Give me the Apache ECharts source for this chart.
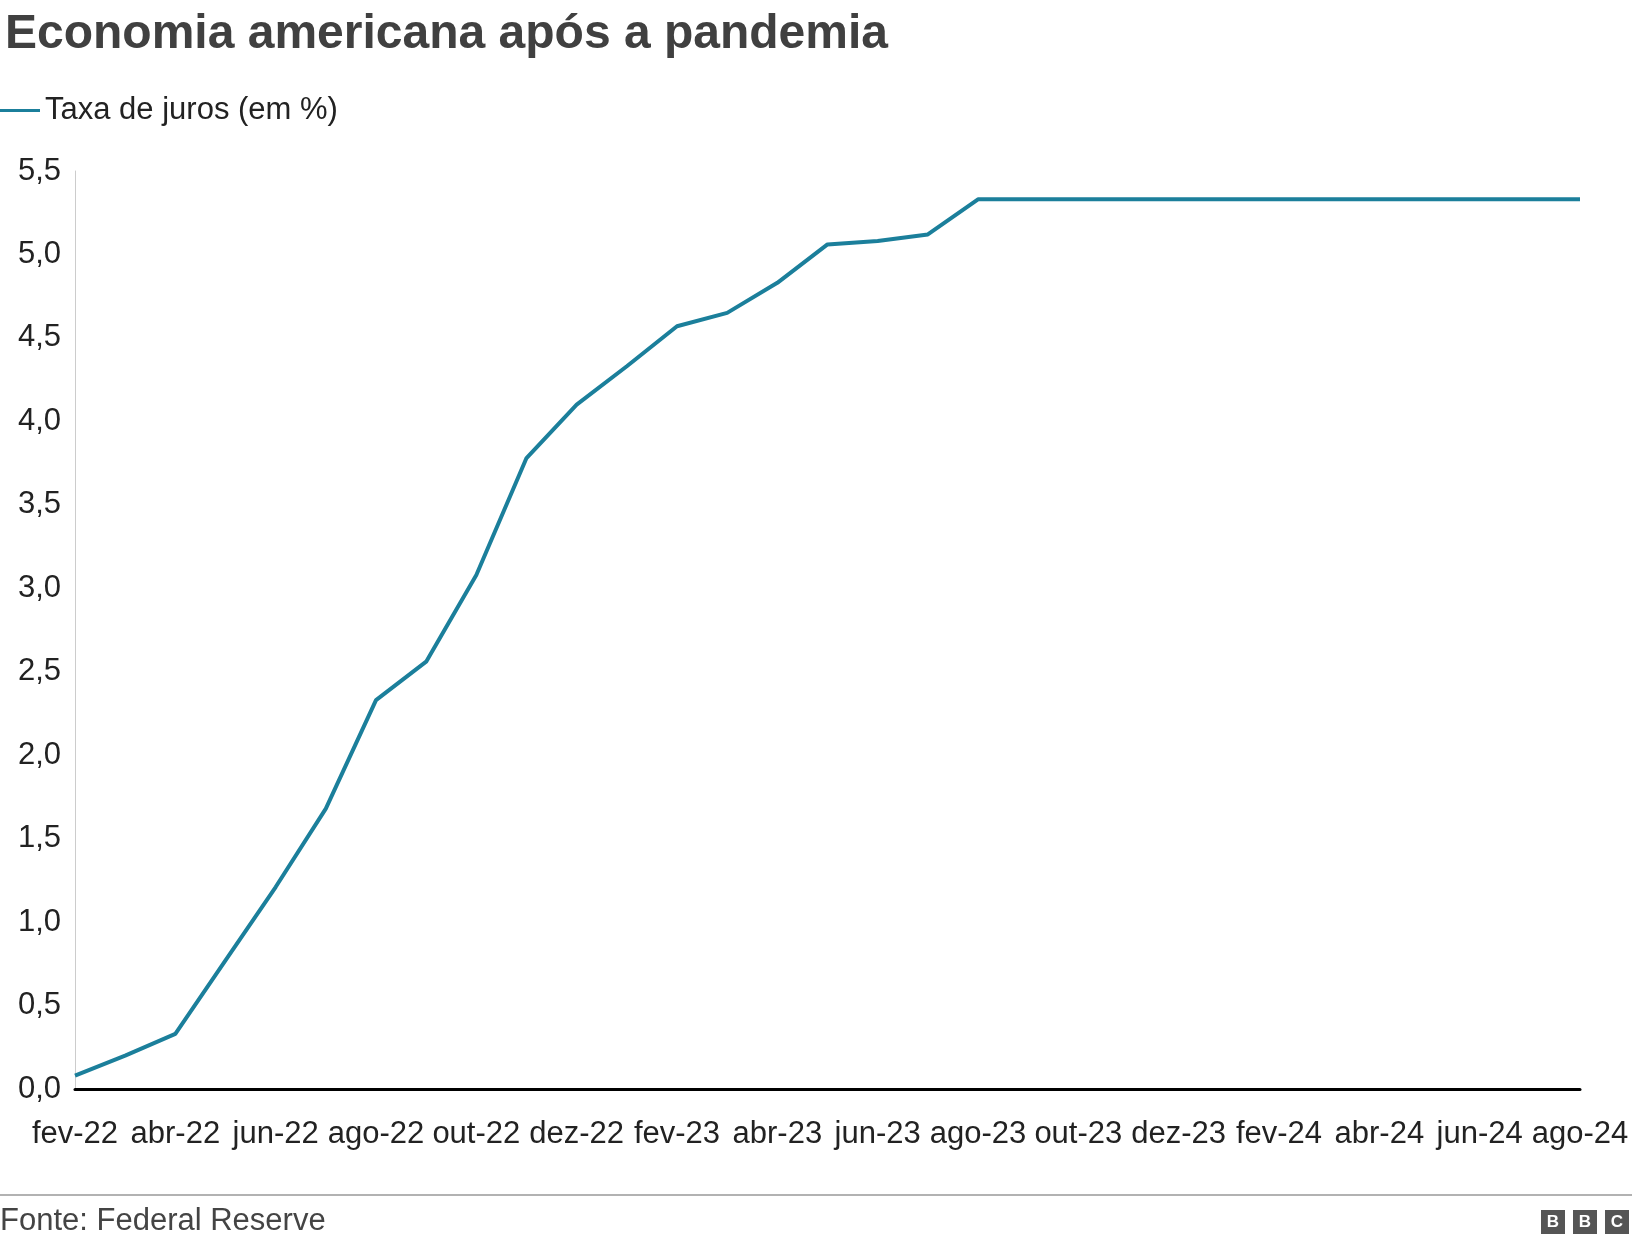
<!DOCTYPE html>
<html><head><meta charset="utf-8">
<script src="https://cdn.jsdelivr.net/npm/echarts@6/dist/echarts.min.js"></script>
<style>html,body{margin:0;padding:0;background:#fff}#c{width:1632px;height:1250px}</style>
</head><body><div id="c"></div>
<script>
const categories = ['fev-22','mar-22','abr-22','mai-22','jun-22','jul-22','ago-22','set-22','out-22','nov-22','dez-22','jan-23','fev-23','mar-23','abr-23','mai-23','jun-23','jul-23','ago-23','set-23','out-23','nov-23','dez-23','jan-24','fev-24','mar-24','abr-24','mai-24','jun-24','jul-24','ago-24'];
const rates = [0.08,0.20,0.33,0.77,1.21,1.68,2.33,2.56,3.08,3.78,4.10,4.33,4.57,4.65,4.83,5.06,5.08,5.12,5.33,5.33,5.33,5.33,5.33,5.33,5.33,5.33,5.33,5.33,5.33,5.33,5.33];
const yTicks = ['0,0','0,5','1,0','1,5','2,0','2,5','3,0','3,5','4,0','4,5','5,0','5,5'];
const F = '"Liberation Sans", Arial, sans-serif';
const chart = echarts.init(document.getElementById('c'));
const box = (x, t) => ({type:'group', left:x, top:1210, children:[
  {type:'rect', shape:{x:0,y:0,width:24,height:24}, style:{fill:'#555'}},
  {type:'text', style:{text:t, x:12, y:12, align:'center', verticalAlign:'middle', fill:'#fff', font:'bold 17px '+F}}]});
chart.setOption({
  animation:false,
  title:{text:'Economia americana após a pandemia', left:0, top:6, textStyle:{fontFamily:F, fontSize:48, fontWeight:'bold', color:'#404040'}},
  legend:{left:-5, top:90, itemWidth:40, itemHeight:3, itemGap:8, icon:'rect', textStyle:{fontFamily:F, fontSize:31, color:'#222'}, data:['Taxa de juros (em %)']},
  grid:{left:75, right:52, top:171, bottom:161},
  xAxis:{type:'category', data:categories, boundaryGap:false,
    axisLine:{lineStyle:{color:'#000', width:3}}, axisTick:{show:false},
    axisLabel:{interval:1, fontFamily:F, fontSize:31, color:'#222', margin:30}},
  yAxis:{type:'value', min:0, max:5.5, interval:0.5,
    axisLine:{show:true, lineStyle:{color:'#ccc', width:1}}, axisTick:{show:false}, splitLine:{show:false},
    axisLabel:{fontFamily:F, fontSize:31, color:'#222', margin:14, formatter:(v)=>yTicks[Math.round(v*2)]}},
  series:[{name:'Taxa de juros (em %)', type:'line', data:rates, symbol:'none', lineStyle:{color:'#1b7f9b', width:4}, itemStyle:{color:'#1b7f9b'}}],
  graphic:[
    {type:'line', shape:{x1:0,y1:1195,x2:1632,y2:1195}, style:{stroke:'#999', lineWidth:1.5}},
    {type:'text', left:0, top:1206, style:{text:'Fonte: Federal Reserve', font:'31px '+F, fill:'#444'}},
    box(1541,'B'), box(1573,'B'), box(1605,'C')
  ]
});
</script></body></html>
